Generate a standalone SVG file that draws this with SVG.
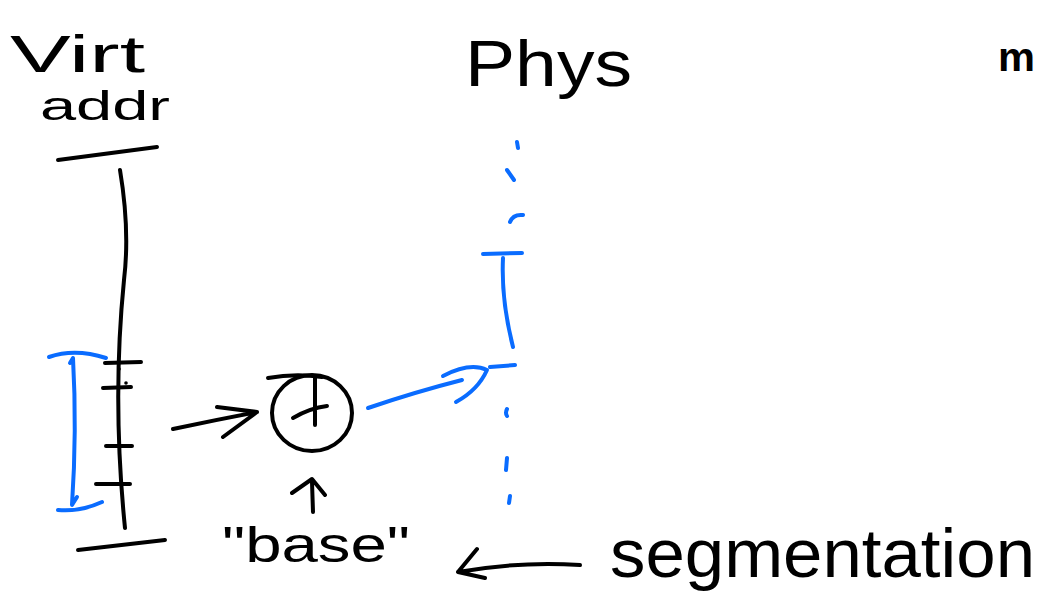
<svg xmlns="http://www.w3.org/2000/svg" width="1040" height="592" viewBox="0 0 1040 592">
<style>
.k{fill:none;stroke:#000;stroke-width:4;stroke-linecap:round;stroke-linejoin:round}
.b{fill:none;stroke:#0a6cff;stroke-width:4;stroke-linecap:round;stroke-linejoin:round}
.t{font-family:"Liberation Sans","DejaVu Sans",sans-serif;fill:#000}
</style>
<rect width="1040" height="592" fill="#fff"/>
<g id="virt-label">
<text class="t" x="10" y="72" font-size="52" textLength="135" lengthAdjust="spacingAndGlyphs">Virt</text>
<text class="t" x="40" y="120" font-size="40" textLength="130" lengthAdjust="spacingAndGlyphs">addr</text>
</g>
<g id="phys-label"><text class="t" x="465" y="86" font-size="64" textLength="167" lengthAdjust="spacingAndGlyphs">Phys</text></g>
<g id="m-label"><text class="t" x="998" y="71" font-size="40" font-weight="bold" textLength="37" lengthAdjust="spacingAndGlyphs">m</text></g>
<g id="virt-axis">
<path class="k" d="M58,160 L157,147"/>
<path class="k" d="M120,170 Q130,230 124,280 Q112,400 125,528"/>
<path class="k" d="M78,550 L165,540"/>
<path class="k" d="M105,363 L141,362 M103,388 L131,387 M106,446 L132,446 M96,484 L130,484"/>
<circle cx="119" cy="369" r="1.8"/><circle cx="126" cy="383" r="1.8"/>
</g>
<g id="virt-range">
<path class="b" d="M49,357 Q75,348 106,358"/>
<path class="b" d="M70,363 L73,358 Q77,430 72,505 L77,497"/>
<path class="b" d="M58,510 Q80,512 102,502"/>
</g>
<g id="adder">
<ellipse class="k" cx="312" cy="413" rx="40" ry="38"/>
<path class="k" d="M268,378 Q295,373 322,377"/>
<path class="k" d="M315,378 L315,425 M293,418 Q310,408 327,406"/>
</g>
<g id="base-label">
<path class="k" d="M313,512 L312,482 M292,493 L312,479 L325,495"/>
<text class="t" x="222" y="562" font-size="50" textLength="188" lengthAdjust="spacingAndGlyphs">"base"</text>
</g>
<g id="phys-axis">
<path class="b" d="M517,142 L518,148 M507,170 L514,180 M510,222 Q513,214 523,215"/>
<path class="b" d="M483,254 L522,253"/>
<path class="b" d="M503,258 Q501,300 513,347"/>
<path class="b" d="M490,367 L515,365"/>
<path class="b" d="M507,409 Q505,413 507,416 M507,458 L506,470 M510,496 L509,503"/>
</g>
<g id="segmentation-label">
<text class="t" x="610" y="577" font-size="68" textLength="425" lengthAdjust="spacingAndGlyphs">segmentation</text>
</g>
<g id="connectors">
<path class="k" d="M173,429 Q215,420 257,412 M217,407 L257,412 L223,437"/>
<path class="b" d="M368,408 Q415,392 462,380 M443,376 Q470,362 487,370 Q478,390 456,402"/>
<path class="k" d="M458,572 Q520,561 580,565 M477,549 L458,572 L485,578"/>
</g>
</svg>
